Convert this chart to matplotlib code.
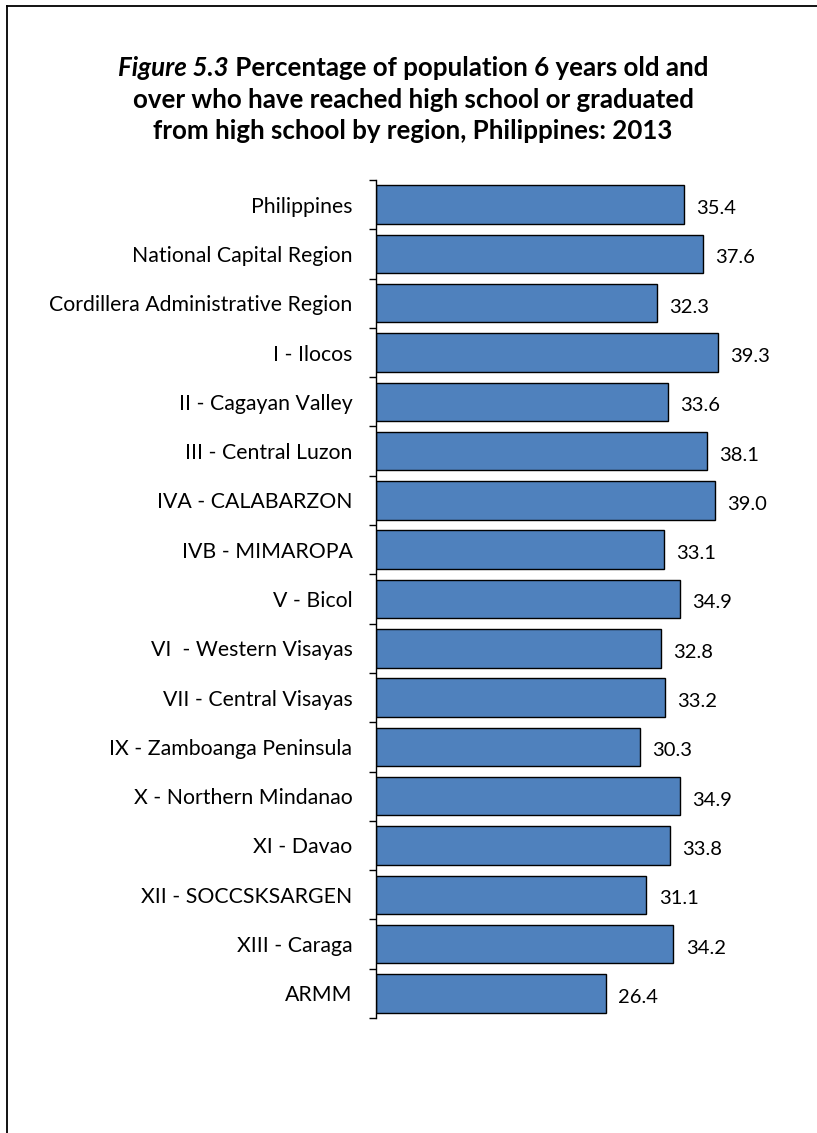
import matplotlib
matplotlib.use("Agg")
import matplotlib.pyplot as plt
from matplotlib.lines import Line2D

regions = [
    "Philippines",
    "National Capital Region",
    "Cordillera Administrative Region",
    "I - Ilocos",
    "II - Cagayan Valley",
    "III - Central Luzon",
    "IVA - CALABARZON",
    "IVB - MIMAROPA",
    "V - Bicol",
    "VI  - Western Visayas",
    "VII - Central Visayas",
    "IX - Zamboanga Peninsula",
    "X - Northern Mindanao",
    "XI - Davao",
    "XII - SOCCSKSARGEN",
    "XIII - Caraga",
    "ARMM",
]
percent = [35.4, 37.6, 32.3, 39.3, 33.6, 38.1, 39.0, 33.1, 34.9,
           32.8, 33.2, 30.3, 34.9, 33.8, 31.1, 34.2, 26.4]

plt.rcParams['font.family'] = ['Lato', 'DejaVu Sans']

W, H = 817, 1133
fig = plt.figure(figsize=(W / 100, H / 100), dpi=100)

# outer frame (top and left edges visible)
fig.add_artist(Line2D([7 / W, 1.0], [1 - 6 / H, 1 - 6 / H], color='black', lw=1.3))
fig.add_artist(Line2D([7 / W, 7 / W], [0.0, 1 - 6 / H], color='black', lw=1.3))

ax = fig.add_axes([376 / W, 1 - 1018 / H, (790 - 376) / W, (1018 - 180) / H])
pos = list(range(len(regions)))
ax.barh(pos, percent, height=0.78, color='#4F81BD', edgecolor='black', linewidth=1.0)
ax.set_ylim(len(regions) - 0.5, -0.5)
ax.set_xlim(0, 47.6)

for y, v in zip(pos, percent):
    ax.text(v + 1.4, y + 0.08, f"{v:.1f}", va='center', ha='left', fontsize=14.5)

ax.set_yticks([p - 0.5 for p in pos] + [len(regions) - 0.5])
ax.set_yticklabels([])
ax.set_yticks(pos, minor=True)
ax.set_yticklabels(regions, minor=True, fontsize=15.3)
ax.tick_params(axis='y', which='major', length=5, width=1, direction='out')
ax.tick_params(axis='y', which='minor', length=0, pad=17)
ax.set_xticks([])
for s in ['top', 'right', 'bottom']:
    ax.spines[s].set_visible(False)
ax.spines['left'].set_linewidth(1.0)

# title: first words bold italic, rest bold
fig.canvas.draw()
r = fig.canvas.get_renderer()
fs = 18.6
cx = 413 / W
t1a = fig.text(0, 0, "Figure 5.3", fontsize=fs, fontweight='bold', fontstyle='italic')
t1b = fig.text(0, 0, " Percentage of population 6 years old and", fontsize=fs, fontweight='bold')
wa = t1a.get_window_extent(r).width / W
wb = t1b.get_window_extent(r).width / W
x0 = cx - (wa + wb) / 2
y1 = 1 - 68 / H
t1a.set_position((x0, y1))
t1a.set_va('center')
t1b.set_position((x0 + wa, y1))
t1b.set_va('center')
fig.text(cx, 1 - 100 / H, "over who have reached high school or graduated",
         fontsize=fs, fontweight='bold', ha='center', va='center')
fig.text(cx, 1 - 131 / H, "from high school by region, Philippines: 2013",
         fontsize=fs, fontweight='bold', ha='center', va='center')

fig.savefig("out.png", dpi=100)
